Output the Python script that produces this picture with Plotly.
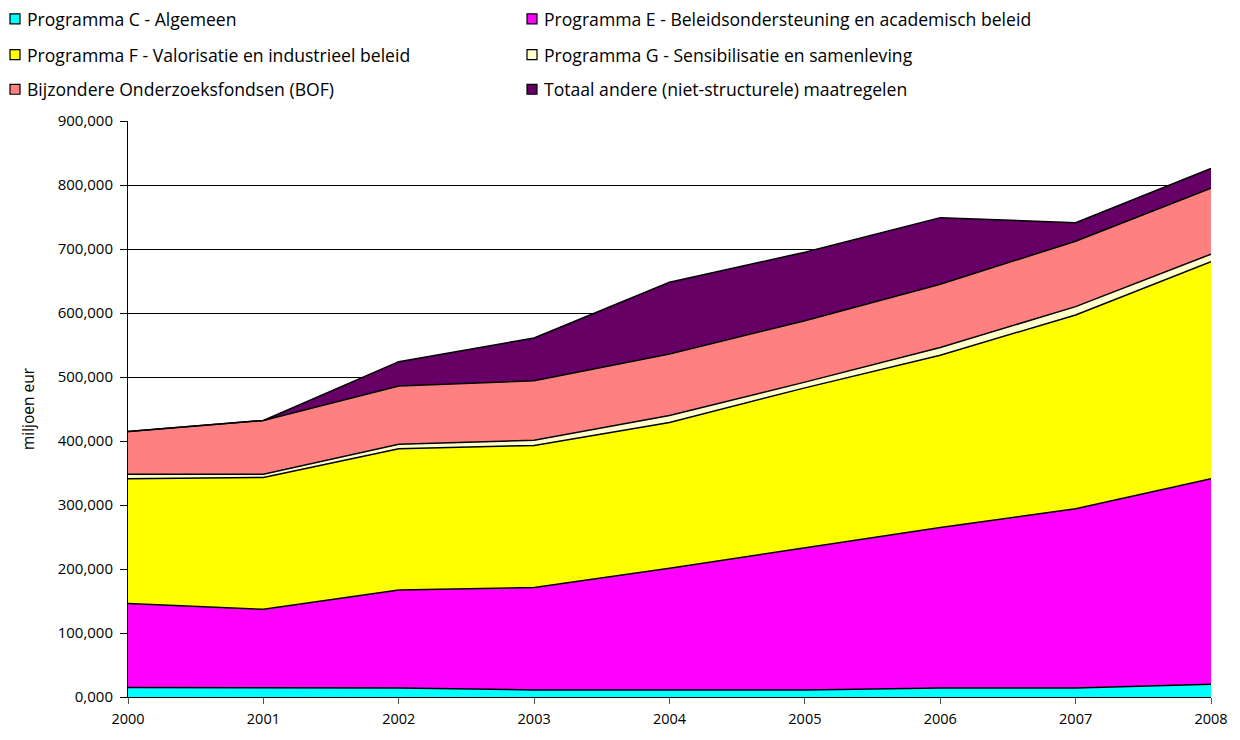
import plotly.graph_objects as go

years = [2000, 2001, 2002, 2003, 2004, 2005, 2006, 2007, 2008]
prog_c = [15, 14, 14, 11, 11, 11, 14, 14, 20]
prog_e = [131, 123, 153, 160, 190, 222, 251, 280, 321]
prog_f = [195, 206, 221, 222, 228, 250, 269, 303, 339]
prog_g = [7, 5, 7, 8, 11, 9, 12, 13, 12]
bof = [67, 84, 91, 93, 96, 96, 99, 102, 103]
other = [0, 0, 38, 67, 112, 107, 104, 29, 31]

names = [
    "Programma C - Algemeen",
    "Programma E - Beleidsondersteuning en academisch beleid",
    "Programma F - Valorisatie en industrieel beleid",
    "Programma G - Sensibilisatie en samenleving",
    "Bijzondere Onderzoeksfondsen (BOF)",
    "Totaal andere (niet-structurele) maatregelen",
]
series = [prog_c, prog_e, prog_f, prog_g, bof, other]
colors = ["#00FFFF", "#FF00FF", "#FFFF00", "#FFFFCC", "#FF8080", "#660066"]

ytick_vals = [0, 100, 200, 300, 400, 500, 600, 700, 800, 900]
ytick_text = ["0,000", "100,000", "200,000", "300,000", "400,000",
              "500,000", "600,000", "700,000", "800,000", "900,000"]

OFF = 8  # page body margin
W, H = 1232, 732
ML, MR, MT, MB = 120, 29, 113, 38
PW, PH = W - ML - MR, H - MT - MB


def px_x(px):
    return (px - OFF - ML) / PW


def px_y(py):
    return (H - MB - (py - OFF)) / PH


fig = go.Figure()
for n, s, c in zip(names, series, colors):
    fig.add_trace(go.Scatter(
        x=years, y=s, name=n, stackgroup="one", mode="lines",
        line=dict(color="black", width=1.5), fillcolor=c, showlegend=False,
    ))

font_family = "'Open Sans', Lato, sans-serif"

# manual legend (two columns, three rows)
col_x = [10, 527]
row_y = [18, 54, 89]
shapes = []
annotations = []
for i, (n, c) in enumerate(zip(names, colors)):
    cx = col_x[i % 2]
    cy = row_y[i // 2]
    shapes.append(dict(
        type="rect", xref="paper", yref="paper",
        x0=px_x(cx), x1=px_x(cx + 10), y0=px_y(cy + 5), y1=px_y(cy - 5),
        fillcolor=c, line=dict(color="black", width=1.2),
    ))
    annotations.append(dict(
        xref="paper", yref="paper", x=px_x(cx + 15), y=px_y(cy),
        xanchor="left", yanchor="middle", text=n, showarrow=False,
        font=dict(size=17.6, family=font_family, color="black"),
    ))

fig.update_layout(
    width=W, height=H,
    paper_bgcolor="white", plot_bgcolor="white",
    margin=dict(l=ML, r=MR, t=MT, b=MB),
    font=dict(family=font_family, size=15, color="black"),
    showlegend=False,
    shapes=shapes,
    annotations=annotations,
    xaxis=dict(
        range=[2000, 2008], tickvals=years, ticks="outside", ticklen=6,
        tickcolor="#555", showline=True, linecolor="black", linewidth=1,
        showgrid=False, zeroline=False, tickfont=dict(size=14.5),
        ticklabelstandoff=3,
    ),
    yaxis=dict(
        range=[0, 900], tickvals=ytick_vals, ticktext=ytick_text,
        ticks="outside", ticklen=7, tickcolor="black",
        showline=True, linecolor="black", linewidth=1,
        showgrid=True, gridcolor="black", gridwidth=1, zeroline=False,
        title=dict(text="miljoen eur", font=dict(size=15.5), standoff=19),
        tickfont=dict(size=15), ticklabelstandoff=4,
    ),
)

fig.write_html("out.html")
